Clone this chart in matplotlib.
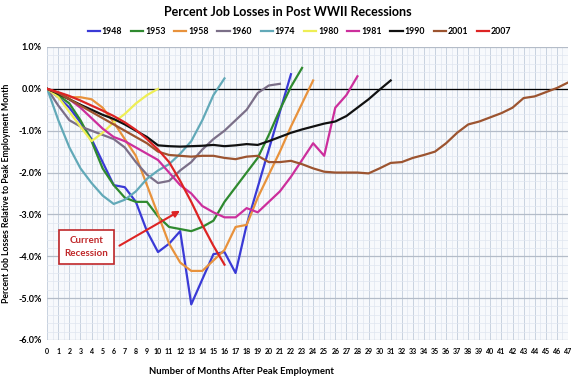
import numpy as np
import matplotlib
matplotlib.use('Agg')
import matplotlib.pyplot as plt
from matplotlib.ticker import MultipleLocator, FuncFormatter
from matplotlib.patches import FancyBboxPatch

plt.rcParams['font.family'] = ['Lato', 'DejaVu Sans']

# percent change vs peak employment month, one value per month
r1948 = [0, -0.2, -0.45, -0.8, -1.2, -1.75, -2.3, -2.35, -2.7, -3.4, -3.9, -3.7, -3.4,
         -5.15, -4.55, -3.95, -3.9, -4.4, -3.25, -2.35, -1.45, -0.55, 0.35]
r1953 = [0, -0.15, -0.35, -0.75, -1.25, -1.9, -2.3, -2.6, -2.7, -2.7, -3.05, -3.3, -3.35,
         -3.4, -3.3, -3.15, -2.7, -2.35, -2.0, -1.65, -1.1, -0.5, 0.05, 0.5]
r1958 = [0, -0.1, -0.2, -0.2, -0.25, -0.45, -0.8, -1.2, -1.6, -2.3, -3.0, -3.7, -4.15,
         -4.35, -4.35, -4.1, -3.85, -3.3, -3.25, -2.6, -2.05, -1.5, -0.9, -0.35, 0.2]
r1960 = [0, -0.4, -0.75, -0.9, -1.0, -1.1, -1.2, -1.4, -1.75, -2.05, -2.25, -2.2, -1.95,
         -1.75, -1.45, -1.2, -1.0, -0.75, -0.5, -0.1, 0.08, 0.12]
r1974 = [0, -0.75, -1.4, -1.9, -2.25, -2.55, -2.75, -2.65, -2.45, -2.15, -1.95, -1.8,
         -1.55, -1.25, -0.75, -0.15, 0.25]
r1980 = [0, -0.2, -0.55, -0.9, -1.25, -1.05, -0.8, -0.6, -0.35, -0.15, 0.0]
r1981 = [0, -0.1, -0.25, -0.45, -0.7, -0.95, -1.15, -1.25, -1.4, -1.55, -1.7, -2.0, -2.3,
         -2.5, -2.8, -2.95, -3.07, -3.07, -2.85, -2.95, -2.7, -2.45, -2.1, -1.7, -1.3,
         -1.6, -0.45, -0.15, 0.3]
r1990 = [0, -0.12, -0.25, -0.38, -0.5, -0.62, -0.72, -0.85, -1.0, -1.15, -1.35, -1.37,
         -1.38, -1.37, -1.36, -1.34, -1.37, -1.35, -1.32, -1.34, -1.25, -1.15, -1.05,
         -0.97, -0.9, -0.83, -0.78, -0.65, -0.45, -0.25, -0.02, 0.2]
r2001 = [0, -0.1, -0.25, -0.4, -0.55, -0.7, -0.85, -1.0, -1.15, -1.3, -1.5, -1.58, -1.6,
         -1.62, -1.6, -1.6, -1.65, -1.68, -1.62, -1.6, -1.75, -1.75, -1.72, -1.8, -1.9,
         -1.98, -2.0, -2.0, -2.0, -2.02, -1.9, -1.77, -1.75, -1.65, -1.58, -1.5, -1.3,
         -1.05, -0.85, -0.78, -0.68, -0.58, -0.45, -0.22, -0.18, -0.08, 0.02, 0.15]
r2007 = [0, -0.08, -0.17, -0.28, -0.4, -0.52, -0.65, -0.8, -0.98, -1.2, -1.45, -1.75,
         -2.2, -2.7, -3.25, -3.75, -4.2]

labels = ['1948', '1953', '1958', '1960', '1974', '1980', '1981', '1990', '2001', '2007']
series = [r1948, r1953, r1958, r1960, r1974, r1980, r1981, r1990, r2001, r2007]
colors = ['#3a3ad6', '#2f8a2f', '#e8923c', '#7b6f88', '#62a9b8', '#eeee55', '#cc2f9c',
          '#111111', '#9c5430', '#dd2424']

fig = plt.figure(figsize=(5.76, 3.79), dpi=100)
fig.patch.set_facecolor('white')
ax = fig.add_axes([0.082, 0.103, 0.904, 0.773])
ax.set_facecolor('#f7f9fc')

for lab, vals, c in zip(labels, series, colors):
    ax.plot(np.arange(len(vals)), vals, color=c, lw=1.6, label=lab, zorder=3,
            solid_joinstyle='round')

ax.axhline(0, color='black', lw=0.9, zorder=2)

ax.set_xlim(0, 47)
ax.set_ylim(-6, 1)
ax.xaxis.set_major_locator(MultipleLocator(1))
ax.xaxis.set_minor_locator(MultipleLocator(0.5))
ax.yaxis.set_major_locator(MultipleLocator(1))
ax.yaxis.set_minor_locator(MultipleLocator(0.2))
ax.yaxis.set_major_formatter(FuncFormatter(lambda v, p: f'{v:.1f}%'))
ax.grid(which='major', axis='y', color='#b4bcc8', lw=0.9, zorder=0)
ax.grid(which='major', axis='x', color='#c8d2e0', lw=0.7, zorder=0)
ax.grid(which='minor', color='#e0e6f0', lw=0.5, zorder=0)
for s in ax.spines.values():
    s.set_visible(False)
ax.tick_params(which='both', length=0)
ax.tick_params(axis='x', labelsize=5, pad=6)
ax.tick_params(axis='y', labelsize=6.5, pad=4)
for t in ax.get_xticklabels() + ax.get_yticklabels():
    t.set_fontweight('bold')

fig.text(0.011, 0.49, 'Percent Job Losses Relative to Peak Employment Month',
         rotation=90, ha='center', va='center', fontsize=6.3, fontweight='bold')
fig.text(0.42, 0.02, 'Number of Months After Peak Employment', ha='center',
         va='center', fontsize=6.8, fontweight='bold')
fig.text(0.5, 0.968, 'Percent Job Losses in Post WWII Recessions', ha='center',
         va='center', fontsize=9, fontweight='bold')

fig.legend(loc='center', bbox_to_anchor=(0.52, 0.918), ncol=10, frameon=False,
           fontsize=6.3, handlelength=1.4, handletextpad=0.2, columnspacing=1.0,
           prop={'weight': 'bold', 'size': 6.3})

# callout box for the current recession
ax.annotate('', xy=(12.2, -2.88), xytext=(6.3, -3.78),
            arrowprops=dict(arrowstyle='-|>', color='#dd2424', lw=1.5,
                            mutation_scale=9), zorder=5)
ax.text(3.55, -3.78, 'Current\nRecession', ha='center', va='center', fontsize=7,
        fontweight='bold', color='#c0282a', linespacing=1.5, zorder=6,
        bbox=dict(boxstyle='square,pad=0.6', fc='white', ec='#c0282a', lw=1.2))

fig.savefig('out.png', dpi=100)
